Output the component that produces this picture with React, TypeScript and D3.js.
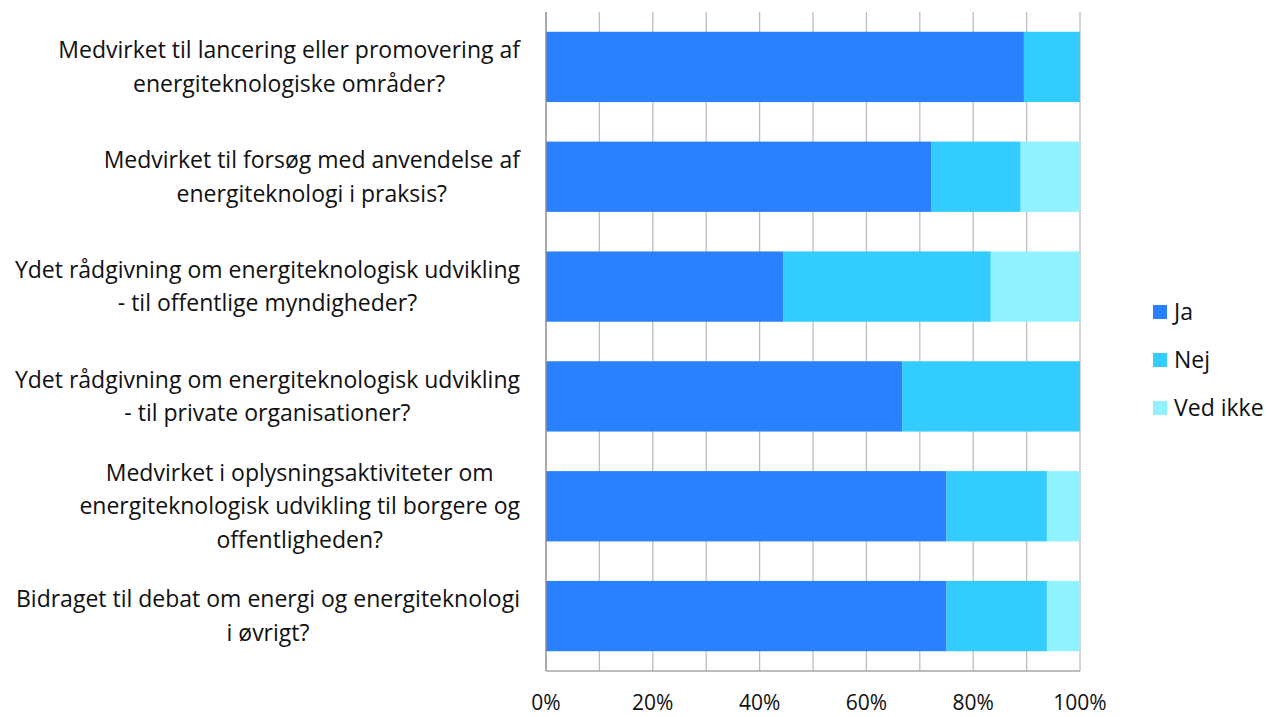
import { useEffect, useRef } from 'react';
import * as d3 from 'd3';

// Questions (already wrapped the way the chart shows them)
const categories: string[][] = [
  ['Medvirket til lancering eller promovering af', 'energiteknologiske områder?'],
  ['Medvirket til forsøg med anvendelse af', 'energiteknologi i praksis?'],
  ['Ydet rådgivning om energiteknologisk udvikling', '- til offentlige myndigheder?'],
  ['Ydet rådgivning om energiteknologisk udvikling', '- til private organisationer?'],
  ['Medvirket i oplysningsaktiviteter om', 'energiteknologisk udvikling til borgere og', 'offentligheden?'],
  ['Bidraget til debat om energi og energiteknologi', 'i øvrigt?'],
];

const seriesNames = ['Ja', 'Nej', 'Ved ikke'];
const jaValues = [89.5, 72.2, 44.4, 66.7, 75.0, 75.0];
const nejValues = [10.5, 16.7, 38.9, 33.3, 18.8, 18.8];
const vedIkkeValues = [0, 11.1, 16.7, 0, 6.2, 6.2];
const seriesColors = ['#2981FF', '#33CCFF', '#91F3FF'];

const W = 1267;
const H = 717;
const FONT = '"Open Sans", sans-serif';

export default function App(): React.JSX.Element {
  const svgRef = useRef<SVGSVGElement>(null);

  useEffect(() => {
    if (!svgRef.current) return;
    const svg = d3.select(svgRef.current);
    svg.selectAll('*').remove();

    const left = 546;
    const right = 1080;
    const top = 12;
    const bottom = 671;

    const x = d3.scaleLinear().domain([0, 100]).range([left, right]);
    const y = d3.scaleBand<number>()
      .domain(categories.map((_, i) => i))
      .range([top, bottom])
      .paddingInner(0.36)
      .paddingOuter(0.18);

    // gridlines
    svg.append('g')
      .selectAll('line')
      .data(d3.range(10, 101, 10))
      .join('line')
      .attr('x1', d => x(d)).attr('x2', d => x(d))
      .attr('y1', top).attr('y2', bottom)
      .attr('stroke', '#BDBDBD')
      .attr('stroke-width', 1.3);

    // stacked bars
    const rows = categories.map((_, i) => ({
      ja: jaValues[i], nej: nejValues[i], ved: vedIkkeValues[i],
    }));
    const stack = d3.stack<{ ja: number; nej: number; ved: number }>().keys(['ja', 'nej', 'ved']);
    const layers = stack(rows);

    svg.append('g')
      .selectAll('g')
      .data(layers)
      .join('g')
      .attr('fill', (_, i) => seriesColors[i])
      .selectAll('rect')
      .data(d => d.map((v, i) => ({ v, i })))
      .join('rect')
      .attr('x', d => x(d.v[0]))
      .attr('width', d => Math.max(0, x(d.v[1]) - x(d.v[0])))
      .attr('y', d => y(d.i) ?? 0)
      .attr('height', y.bandwidth());

    // axes lines
    svg.append('line')
      .attr('x1', left).attr('x2', left).attr('y1', top).attr('y2', bottom)
      .attr('stroke', '#8C8C8C').attr('stroke-width', 1.5);
    svg.append('line')
      .attr('x1', left).attr('x2', right).attr('y1', bottom).attr('y2', bottom)
      .attr('stroke', '#A6A6A6').attr('stroke-width', 1.5);

    // x tick labels
    svg.append('g')
      .selectAll('text')
      .data(d3.range(0, 101, 20))
      .join('text')
      .attr('x', d => x(d))
      .attr('y', 710)
      .attr('text-anchor', 'middle')
      .attr('font-family', FONT)
      .attr('font-size', 21)
      .attr('fill', '#111')
      .text(d => `${d}%`);

    // category labels: lines centered in a block that is right aligned
    const lineH = 33.5;
    const labelRight = 520;
    categories.forEach((lines, i) => {
      const cy = (y(i) ?? 0) + y.bandwidth() / 2;
      const g = svg.append('g');
      const texts = g.selectAll('text')
        .data(lines)
        .join('text')
        .attr('y', (_, k) => cy + (k - (lines.length - 1) / 2) * lineH + 8)
        .attr('text-anchor', 'middle')
        .attr('font-family', FONT)
        .attr('font-size', 23)
        .attr('fill', '#111')
        .text(d => d);
      let maxW = 0;
      texts.each(function () {
        maxW = Math.max(maxW, (this as SVGTextElement).getComputedTextLength());
      });
      texts.attr('x', labelRight - maxW / 2);
    });

    // legend
    const legend = svg.append('g');
    seriesNames.forEach((name, i) => {
      const ly = 312 + i * 48;
      legend.append('rect')
        .attr('x', 1153).attr('y', ly - 7)
        .attr('width', 14).attr('height', 14)
        .attr('fill', seriesColors[i]);
      legend.append('text')
        .attr('x', 1174).attr('y', ly + 8)
        .attr('font-family', FONT)
        .attr('font-size', 23)
        .attr('fill', '#111')
        .text(name);
    });
  }, []);

  return (
    <svg
      ref={svgRef}
      width={W}
      height={H}
      style={{ position: 'absolute', left: 0, top: 0, background: '#fff' }}
    />
  );
}
